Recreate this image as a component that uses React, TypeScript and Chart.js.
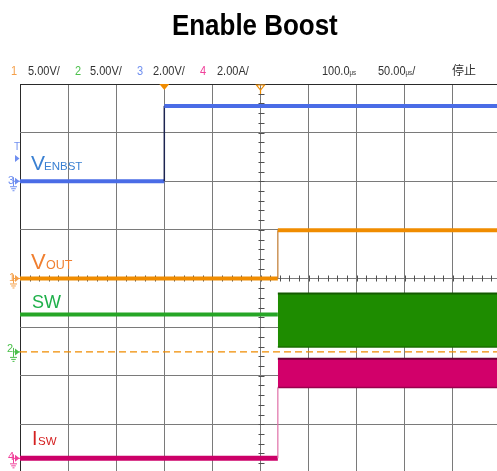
import React, { useEffect, useRef } from 'react';
import { Chart, registerables } from 'chart.js';

Chart.register(...registerables);

// ---- horizontal (time) settings ----
const TIME_PER_DIV_US = 50;
const TIME_MIN_US = -250;
const TIME_MAX_US = 245.8;
const TRIGGER_DELAY_US = 100;

// ---- vertical settings: ch1 VOUT, ch2 SW, ch3 VENBST, ch4 ISW ----
const CH_SCALE = [5, 5, 2, 2]; // V/div, V/div, V/div, A/div
const CH_OFFSET_DIV = [0, -1.51, 2.0, -3.7];
const Y_MIN_DIV = -3.96;
const Y_MAX_DIV = 4;

// ---- traces ----
const venbstT = [-250, -100, -100, 245.8];
const venbstV = [0, 0, 3.1, 3.1];

const voutT = [-250, 18, 18, 245.8];
const voutV = [0, 0, 4.95, 4.95];

const swT = [-250, 18];
const swV = [3.85, 3.85];
const swBurstT = [18, 245.8];
const swBurstHigh = [6.0, 6.0];
const swBurstLow = [0.5, 0.5];

const iswT = [-250, 18, 18];
const iswA = [0, 0, 2.92];
const iswBurstT = [18, 245.8];
const iswBurstHigh = [4.1, 4.1];
const iswBurstLow = [2.92, 2.92];

const triggerLevelV = 0; // on ch2 scale

// ---- texts ----
const TITLE = 'Enable Boost';
const chLabels = ['1', '2', '3', '4'];
const chSettings = ['5.00V/', '5.00V/', '2.00V/', '2.00A/'];
const delayText = '100.0';
const timebaseText = '50.00';
const statusText = '停止';

const CH_COLORS = ['#f5a04a', '#4cc04c', '#6f8ff0', '#f0409a'];

const toDiv = (v: number, ch: number) => CH_OFFSET_DIV[ch] + v / CH_SCALE[ch];
const pts = (ts: number[], vs: number[], ch: number) =>
  ts.map((t, i) => ({ x: t, y: toDiv(vs[i], ch) }));

const isVertical = (c: any) => c.p0.parsed.x === c.p1.parsed.x;

const scopePlugin = {
  id: 'scope',
  beforeDatasetsDraw(chart: any) {
    const { ctx, scales } = chart;
    const x = scales.x;
    const y = scales.y;
    ctx.save();
    ctx.strokeStyle = '#505050';
    ctx.lineWidth = 1;
    const cx = Math.round(x.getPixelForValue(0)) + 0.5;
    const cy = Math.round(y.getPixelForValue(0)) + 0.5;
    const nx = Math.round((TIME_MAX_US - TIME_MIN_US) / (TIME_PER_DIV_US / 5));
    for (let i = 0; i <= nx; i++) {
      const v = TIME_MIN_US + (i * TIME_PER_DIV_US) / 5;
      const px = Math.round(x.getPixelForValue(v)) + 0.5;
      ctx.beginPath();
      ctx.moveTo(px, cy - 3);
      ctx.lineTo(px, cy + 3);
      ctx.stroke();
    }
    for (let i = -20; i <= 20; i++) {
      const py = Math.round(y.getPixelForValue(i / 5)) + 0.5;
      ctx.beginPath();
      ctx.moveTo(cx - 3, py);
      ctx.lineTo(cx + 3, py);
      ctx.stroke();
    }
    ctx.restore();
  },
  afterDraw(chart: any) {
    const { ctx, scales, chartArea } = chart;
    const x = scales.x;
    const y = scales.y;
    ctx.save();
    // trigger position marker (filled)
    const tx = x.getPixelForValue(-TRIGGER_DELAY_US);
    ctx.fillStyle = '#f08c00';
    ctx.beginPath();
    ctx.moveTo(tx - 5, chartArea.top);
    ctx.lineTo(tx + 5, chartArea.top);
    ctx.lineTo(tx, chartArea.top + 6);
    ctx.closePath();
    ctx.fill();
    // center marker (hollow)
    const cx = x.getPixelForValue(0);
    ctx.strokeStyle = '#f08c00';
    ctx.lineWidth = 1.2;
    ctx.beginPath();
    ctx.moveTo(cx - 4, chartArea.top + 1);
    ctx.lineTo(cx + 4, chartArea.top + 1);
    ctx.lineTo(cx, chartArea.top + 6);
    ctx.closePath();
    ctx.stroke();
    ctx.beginPath();
    ctx.moveTo(cx, chartArea.top + 6);
    ctx.lineTo(cx, chartArea.top + 10);
    ctx.stroke();
    // channel ground markers on the left
    const chOrder = [0, 1, 2, 3];
    chOrder.forEach((ch) => {
      const py = y.getPixelForValue(CH_OFFSET_DIV[ch]);
      ctx.fillStyle = CH_COLORS[ch];
      ctx.strokeStyle = CH_COLORS[ch];
      ctx.lineWidth = 1;
      ctx.beginPath();
      ctx.moveTo(15, py - 3.5);
      ctx.lineTo(19.5, py);
      ctx.lineTo(15, py + 3.5);
      ctx.closePath();
      ctx.fill();
      ctx.beginPath();
      ctx.moveTo(13.5, py);
      ctx.lineTo(20, py);
      ctx.moveTo(13.5, py - 4);
      ctx.lineTo(13.5, py + 5);
      ctx.moveTo(10, py + 5.5);
      ctx.lineTo(17, py + 5.5);
      ctx.moveTo(11.2, py + 7.5);
      ctx.lineTo(15.8, py + 7.5);
      ctx.moveTo(12.5, py + 9.5);
      ctx.lineTo(14.5, py + 9.5);
      ctx.stroke();
    });
    // trigger level marker "T"
    const ty = y.getPixelForValue(CH_OFFSET_DIV[2] + 0.47);
    ctx.fillStyle = CH_COLORS[2];
    ctx.beginPath();
    ctx.moveTo(15, ty - 3.5);
    ctx.lineTo(19.5, ty);
    ctx.lineTo(15, ty + 3.5);
    ctx.closePath();
    ctx.fill();
    ctx.restore();
  },
};

export default function App() {
  const ref = useRef<HTMLCanvasElement>(null);

  useEffect(() => {
    const gridColor = (dark: number) => (c: any) =>
      c.tick && c.tick.value === dark ? '#2a2a2a' : '#7a7a7a';
    const chart = new Chart(ref.current as HTMLCanvasElement, {
      type: 'line',
      data: {
        datasets: [
          {
            data: pts(venbstT, venbstV, 2),
            borderColor: '#4a6ce6',
            borderWidth: 4,
            pointRadius: 0,
            segment: {
              borderWidth: (c: any) => (isVertical(c) ? 1.5 : 4),
              borderColor: (c: any) => (isVertical(c) ? '#1c2450' : '#4a6ce6'),
            },
          },
          {
            data: pts(voutT, voutV, 0),
            borderColor: '#f08c00',
            borderWidth: 4,
            pointRadius: 0,
            segment: {
              borderWidth: (c: any) => (isVertical(c) ? 1.2 : 4),
              borderColor: (c: any) => (isVertical(c) ? '#c07a30' : '#f08c00'),
            },
          },
          {
            data: pts(swT, swV, 1),
            borderColor: '#26a626',
            borderWidth: 4,
            pointRadius: 0,
          },
          {
            data: pts(swBurstT, swBurstHigh, 1),
            borderColor: '#145a00',
            borderWidth: 2,
            pointRadius: 0,
            fill: false,
          },
          {
            data: pts(swBurstT, swBurstLow, 1),
            borderColor: '#186e00',
            borderWidth: 1.5,
            pointRadius: 0,
            fill: '-1',
            backgroundColor: '#1e8c00',
          },
          {
            data: pts(iswT, iswA, 3),
            borderColor: '#cc0068',
            borderWidth: 5,
            pointRadius: 0,
            segment: {
              borderWidth: (c: any) => (isVertical(c) ? 1.2 : 5),
              borderColor: (c: any) => (isVertical(c) ? '#e070a8' : '#cc0068'),
            },
          },
          {
            data: pts(iswBurstT, iswBurstHigh, 3),
            borderColor: '#6a0034',
            borderWidth: 2,
            pointRadius: 0,
            fill: false,
          },
          {
            data: pts(iswBurstT, iswBurstLow, 3),
            borderColor: '#9a004e',
            borderWidth: 1.5,
            pointRadius: 0,
            fill: '-1',
            backgroundColor: '#d2006a',
          },
          {
            data: [
              { x: TIME_MIN_US, y: toDiv(triggerLevelV, 1) },
              { x: TIME_MAX_US, y: toDiv(triggerLevelV, 1) },
            ],
            borderColor: '#f08c00',
            borderWidth: 1.2,
            borderDash: [7, 4],
            pointRadius: 0,
          },
        ],
      },
      options: {
        responsive: false,
        animation: false,
        layout: { padding: { left: 20, top: 84, right: 0, bottom: 0 } },
        plugins: {
          legend: { display: false },
          tooltip: { enabled: false },
          title: { display: false },
        },
        scales: {
          x: {
            type: 'linear',
            min: TIME_MIN_US,
            max: TIME_MAX_US,
            border: { display: false },
            ticks: { display: false, stepSize: TIME_PER_DIV_US, includeBounds: false },
            grid: { color: gridColor(TIME_MIN_US), lineWidth: 1, drawTicks: false },
          },
          y: {
            type: 'linear',
            min: Y_MIN_DIV,
            max: Y_MAX_DIV,
            border: { display: false },
            ticks: { display: false, stepSize: 1, includeBounds: false },
            grid: { color: gridColor(Y_MAX_DIV), lineWidth: 1, drawTicks: false },
          },
        },
      },
      plugins: [scopePlugin],
    } as any);
    return () => chart.destroy();
  }, []);

  const hdr = (left: number, text: string, color: string, key: string) => (
    <span
      key={key}
      style={{
        position: 'absolute',
        left,
        top: 65,
        fontSize: 12.5,
        lineHeight: '12.5px',
        color,
        whiteSpace: 'nowrap',
        transform: 'scaleX(0.88)',
        transformOrigin: 'left',
      }}
    >
      {text}
    </span>
  );

  const chX = [11, 75, 137, 200];
  const setX = [28, 90, 153, 217];

  const abs = (left: number, top: number, size: number, color: string): React.CSSProperties => ({
    position: 'absolute',
    left,
    top,
    fontSize: size,
    lineHeight: `${size}px`,
    color,
    whiteSpace: 'nowrap',
  });

  return (
    <div
      style={{
        position: 'fixed',
        left: 0,
        top: 0,
        width: 497,
        height: 471,
        background: '#ffffff',
        overflow: 'hidden',
        fontFamily: '"Liberation Sans", Arial, sans-serif',
      }}
    >
      <canvas
        ref={ref}
        width={497}
        height={471}
        style={{ position: 'absolute', left: 0, top: 0, width: 497, height: 471 }}
      />
      <div
        style={{
          position: 'absolute',
          left: 0,
          top: 10,
          width: 510,
          textAlign: 'center',
          fontSize: 30,
          lineHeight: '30px',
          fontWeight: 'bold',
          color: '#000',
        }}
      >
        <span style={{ display: 'inline-block', transform: 'scaleX(0.865)' }}>{TITLE}</span>
      </div>
      {chLabels.map((l, i) => hdr(chX[i], l, CH_COLORS[i], 'c' + i))}
      {chSettings.map((s, i) => hdr(setX[i], s, '#333', 's' + i))}
      <span style={{ ...abs(322, 65, 12.5, '#333'), transform: 'scaleX(0.88)', transformOrigin: 'left' }}>
        {delayText}
        <span style={{ fontSize: 7 }}>μs</span>
      </span>
      <span style={{ ...abs(378, 65, 12.5, '#333'), transform: 'scaleX(0.88)', transformOrigin: 'left' }}>
        {timebaseText}
        <span style={{ fontSize: 7 }}>μs</span>/
      </span>
      <span style={{ ...abs(452, 64, 12, '#333'), fontFamily: '"Noto Sans CJK SC", sans-serif' }}>{statusText}</span>

      {/* trace labels */}
      <span style={abs(31, 152, 21, '#3a80d2')}>V</span>
      <span style={abs(44, 160.5, 11.5, '#3a80d2')}>ENBST</span>

      <span style={abs(31, 250.5, 22, '#f07f30')}>V</span>
      <span style={abs(46, 258.5, 12.5, '#f07f30')}>OUT</span>

      <span style={abs(32, 292.5, 18, '#1fb04a')}>SW</span>

      <span style={abs(32, 428.5, 19.5, '#d42020')}>I</span>
      <span style={abs(38, 435.5, 11.5, '#d42020')}>SW</span>

      {/* channel marker numbers */}
      <span style={abs(8, 175, 11, CH_COLORS[2])}>3</span>
      <span style={abs(9, 272, 11, CH_COLORS[0])}>1</span>
      <span style={abs(7, 343, 11, CH_COLORS[1])}>2</span>
      <span style={abs(8, 451, 11, CH_COLORS[3])}>4</span>
      <span style={abs(14, 142, 10, CH_COLORS[2])}>T</span>
    </div>
  );
}
